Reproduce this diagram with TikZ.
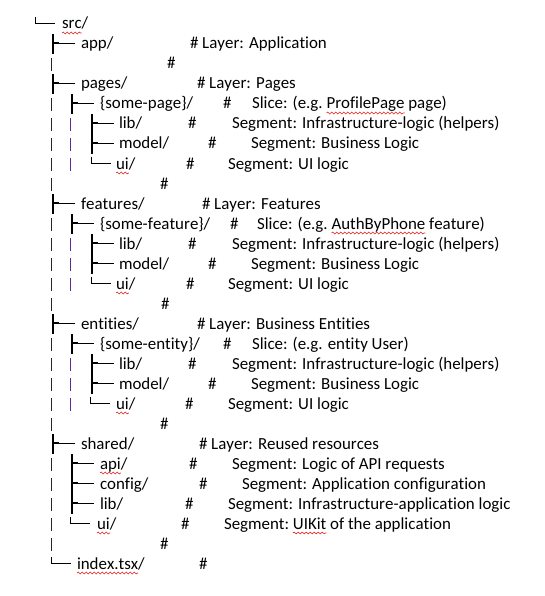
\documentclass[tikz,border=0pt]{standalone}
\usepackage{fontspec}
\setmainfont{Carlito}[Kerning=Off,Ligatures=NoCommon]
\usetikzlibrary{decorations.pathmorphing}
\definecolor{ipurple}{RGB}{96,40,150}
\definecolor{squigred}{RGB}{230,30,30}
\newcommand\mytee[2]{\draw[teeline] (#1,#2-10) -- (#1,#2+10); \draw[stub] (#1,#2-1) -- (#1+6,#2-1); \draw[dashline] (#1,#2-1) -- (#1+22,#2-1);}
\newcommand\myelbow[2]{\draw[elbow] (#1,#2-7) -- (#1,#2-1) -- (#1+20,#2-1);}
\newcommand\mypipe[2]{\draw[pipeline] (#1,#2-6) -- (#1,#2+7);}
\newcommand\myipipe[2]{\draw[ipipeline] (#1,#2-6) -- (#1,#2+7);}
\newcommand\mysquig[1]{\draw[squig] ([yshift=-4pt]#1.base west) -- ([yshift=-4pt]#1.base east);}
\begin{document}
\begin{tikzpicture}[x=1pt,y=-1pt,
  txt/.style={anchor=base west, inner sep=0pt, outer sep=0pt, font=\fontsize{16.9}{20}\selectfont, text=black},
  teeline/.style={line width=1.8pt, black},
  stub/.style={line width=1.6pt, black},
  dashline/.style={line width=0.9pt, black},
  pipeline/.style={line width=1pt, black!85},
  ipipeline/.style={line width=1pt, ipurple},
  elbow/.style={line width=0.9pt, black},
  squig/.style={draw=squigred, line width=0.6pt, decorate, decoration={snake, segment length=4pt, amplitude=0.9pt}}]
\useasboundingbox[fill=white] (0,0) rectangle (544,596);

% Row 1
\myelbow{35}{24}
\node[txt] (src) at (62,29) {src};
\node[txt] (srcsl) at (src.base east) {/};
\mysquig{src}
% Row 2
\mytee{53}{44}
\node[txt] (app) at (81,49) {app/};
\node[txt] (appc) at (190,49) {\# Layer: Application};
% Row 3
\mypipe{51}{64}
\node[txt] (h3) at (167,69) {\#};
% Row 4
\mytee{53}{84}
\node[txt] (pages) at (81,89) {pages/};
\node[txt] (pagesc) at (197,89) {\# Layer: Pages};
% Row 5
\mypipe{51}{104}
\mytee{72}{104}
\node[txt] (spage) at (100,109) {\{some-page\}/};
\node[txt] (h5) at (223,109) {\#};
\node[txt] (s5a) at (252,109) {Slice: (e.g.};
\node[txt] (s5b) at ([xshift=3.8pt]s5a.base east) {ProfilePage};
\node[txt] (s5c) at ([xshift=3.8pt]s5b.base east) {page)};
\mysquig{s5b}
% Row 6
\mypipe{51}{124}
\myipipe{70}{124}
\mytee{92}{124}
\node[txt] (lib1) at (119,129) {lib/};
\node[txt] (h6) at (188,129) {\#};
\node[txt] (c6) at (232,129) {Segment: Infrastructure-logic (helpers)};
% Row 7
\mypipe{51}{144}
\myipipe{70}{144}
\mytee{92}{144}
\node[txt] (model1) at (119,149) {model/};
\node[txt] (h7) at (208,149) {\#};
\node[txt] (c7) at (251,149) {Segment: Business Logic};
% Row 8
\mypipe{51}{164}
\myipipe{70}{164}
\myelbow{91}{164}
\node[txt] (ui1) at (116,169) {ui};
\node[txt] (ui1s) at (ui1.base east) {/};
\mysquig{ui1}
\node[txt] (h8) at (186,169) {\#};
\node[txt] (c8) at (228,169) {Segment: UI logic};
% Row 9
\mypipe{51}{184}
\node[txt] (h9) at (160,189) {\#};
% Row 10
\mytee{53}{204}
\node[txt] (features) at (81,209) {features/};
\node[txt] (featuresc) at (202,209) {\# Layer: Features};
% Row 11
\mypipe{51}{224}
\mytee{72}{224}
\node[txt] (sfeat) at (100,229) {\{some-feature\}/};
\node[txt] (h11) at (230,229) {\#};
\node[txt] (s11a) at (257,229) {Slice: (e.g.};
\node[txt] (s11b) at ([xshift=3.8pt]s11a.base east) {AuthByPhone};
\node[txt] (s11c) at ([xshift=3.8pt]s11b.base east) {feature)};
\mysquig{s11b}
% Row 12
\mypipe{51}{244}
\myipipe{70}{244}
\mytee{92}{244}
\node[txt] (lib2) at (119,249) {lib/};
\node[txt] (h12) at (188,249) {\#};
\node[txt] (c12) at (232,249) {Segment: Infrastructure-logic (helpers)};
% Row 13
\mypipe{51}{264}
\myipipe{70}{264}
\mytee{92}{264}
\node[txt] (model2) at (119,269) {model/};
\node[txt] (h13) at (208,269) {\#};
\node[txt] (c13) at (251,269) {Segment: Business Logic};
% Row 14
\mypipe{51}{284}
\myipipe{70}{284}
\myelbow{91}{284}
\node[txt] (ui2) at (116,289) {ui};
\node[txt] (ui2s) at (ui2.base east) {/};
\mysquig{ui2}
\node[txt] (h14) at (186,289) {\#};
\node[txt] (c14) at (228,289) {Segment: UI logic};
% Row 15
\mypipe{51}{304}
\node[txt] (h15) at (161,309) {\#};
% Row 16
\mytee{53}{324}
\node[txt] (entities) at (81,329) {entities/};
\node[txt] (entitiesc) at (197,329) {\# Layer: Business Entities};
% Row 17
\mypipe{51}{344}
\mytee{72}{344}
\node[txt] (sent) at (100,349) {\{some-entity\}/};
\node[txt] (h17) at (223,349) {\#};
\node[txt] (c17) at (252,349) {Slice: (e.g. entity User)};
% Row 18
\mypipe{51}{364}
\myipipe{70}{364}
\mytee{92}{364}
\node[txt] (lib3) at (119,369) {lib/};
\node[txt] (h18) at (188,369) {\#};
\node[txt] (c18) at (232,369) {Segment: Infrastructure-logic (helpers)};
% Row 19
\mypipe{51}{384}
\myipipe{70}{384}
\mytee{92}{384}
\node[txt] (model3) at (119,389) {model/};
\node[txt] (h19) at (208,389) {\#};
\node[txt] (c19) at (251,389) {Segment: Business Logic};
% Row 20
\mypipe{51}{404}
\myipipe{70}{404}
\myelbow{90}{404}
\node[txt] (ui3) at (116,409) {ui};
\node[txt] (ui3s) at (ui3.base east) {/};
\mysquig{ui3}
\node[txt] (h20) at (185,409) {\#};
\node[txt] (c20) at (228,409) {Segment: UI logic};
% Row 21
\mypipe{51}{424}
\node[txt] (h21) at (160,429) {\#};
% Row 22
\mytee{53}{444}
\node[txt] (shared) at (81,449) {shared/};
\node[txt] (sharedc) at (199,449) {\# Layer: Reused resources};
% Row 23
\mypipe{51}{464}
\mytee{72}{464}
\node[txt] (api) at (100,469) {api};
\node[txt] (apis) at (api.base east) {/};
\mysquig{api}
\node[txt] (h23) at (189,469) {\#};
\node[txt] (c23) at (232,469) {Segment: Logic of API requests};
% Row 24
\mypipe{51}{484}
\mytee{72}{484}
\node[txt] (config) at (100,489) {config/};
\node[txt] (h24) at (199,489) {\#};
\node[txt] (c24) at (242,489) {Segment: Application configuration};
% Row 25
\mypipe{51}{504}
\mytee{72}{504}
\node[txt] (lib4) at (100,509) {lib/};
\node[txt] (h25) at (185,509) {\#};
\node[txt] (c25) at (228,509) {Segment: Infrastructure-application logic};
% Row 26
\mypipe{51}{524}
\myelbow{70}{524}
\node[txt] (ui4) at (97,529) {ui};
\node[txt] (ui4s) at (ui4.base east) {/};
\mysquig{ui4}
\node[txt] (h26) at (181,529) {\#};
\node[txt] (c26a) at (224,529) {Segment:};
\node[txt] (c26b) at ([xshift=3.8pt]c26a.base east) {UIKit};
\node[txt] (c26c) at ([xshift=3.8pt]c26b.base east) {of the application};
\mysquig{c26b}
% Row 27
\mypipe{51}{544}
\node[txt] (h27) at (160,549) {\#};
% Row 28
\myelbow{51}{564}
\node[txt] (index) at (77,569) {index.tsx};
\node[txt] (indexs) at (index.base east) {/};
\mysquig{index}
\node[txt] (h28) at (199,569) {\#};
\end{tikzpicture}
\end{document}
